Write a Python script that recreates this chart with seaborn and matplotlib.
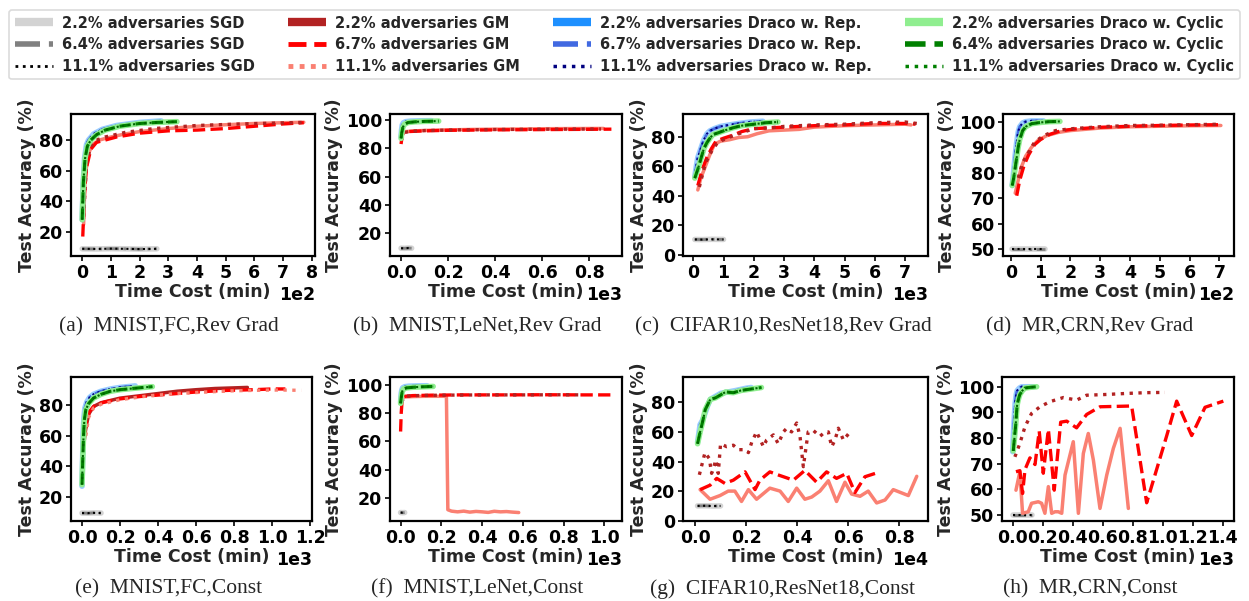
import matplotlib
matplotlib.use("Agg")
import matplotlib.pyplot as plt
from matplotlib.lines import Line2D
from matplotlib.ticker import MultipleLocator
import seaborn as sns

# ---------------------------------------------------------------- data
# time in minutes, accuracy in %

# (a) MNIST, FC, reversed gradient
A_SGD_T = [0, 50, 100, 150, 200, 260]
A_SGD_ACC = [9.0, 8.9, 9.1, 9.0, 8.8, 9.0]
A_REP_T = [0, 3, 8, 15, 22, 40, 70, 120, 200, 275]
A_REP_ACC = [28, 50, 68, 77, 80, 84, 87, 89.5, 91.5, 92.5]
A_CYC_T = [0, 4, 10, 18, 30, 50, 80, 130, 200, 260, 330]
A_CYC_ACC = [28, 52, 68, 76, 80, 83.5, 86.5, 89, 90.8, 91.5, 92]
A_GM1_T = [5, 10, 20, 35, 60, 100, 150, 200, 300, 400, 500, 600, 700, 772]
A_GM1_ACC = [25, 55, 70, 77, 80, 82, 84, 85.5, 87.5, 89, 90, 90.8, 91.3, 91.6]
A_GM2_T = [2, 8, 15, 30, 50, 80, 120, 200, 300, 400, 500, 600, 700, 772]
A_GM2_ACC = [17, 45, 62, 74, 78.5, 80, 82, 84.5, 86, 86.5, 87.5, 89, 90.5, 91.3]
A_GM3_T = [5, 15, 30, 50, 80, 150, 250, 400, 550, 700, 765]
A_GM3_ACC = [30, 65, 76, 80, 82, 85, 87.5, 89.5, 90.5, 91.2, 91.5]

# (b) MNIST, LeNet, reversed gradient
B_SGD_T = [0, 15, 30, 45]
B_SGD_ACC = [9.5, 9.4, 9.6, 9.5]
B_REP_T = [0, 2, 5, 10, 20, 40, 80, 130]
B_REP_ACC = [88, 93, 96.5, 98, 98.8, 99.2, 99.4, 99.5]
B_CYC_T = [0, 3, 8, 15, 30, 60, 100, 160]
B_CYC_ACC = [87, 91, 95, 97, 98.2, 98.7, 99, 99.2]
B_GM1_T = [5, 20, 50, 100, 200, 300, 400, 500, 600, 700, 860]
B_GM1_ACC = [91, 91.8, 92.2, 92.6, 93, 93.3, 93.5, 93.6, 93.8, 93.9, 94]
B_GM2_T = [0, 5, 10, 30, 100, 200, 400, 600, 800, 894]
B_GM2_ACC = [83, 89, 91, 91.8, 92.3, 92.7, 93, 93.2, 93.4, 93.5]
B_GM3_T = [3, 10, 40, 100, 250, 450, 650, 850]
B_GM3_ACC = [86, 91, 92, 92.5, 93, 93.3, 93.5, 93.6]

# (c) CIFAR10, ResNet18, reversed gradient
C_SGD_T = [50, 300, 600, 1000]
C_SGD_ACC = [10.5, 10.4, 10.6, 10.5]
C_REP_T = [50, 100, 150, 250, 350, 450, 550, 700, 900, 1200, 1500, 1900, 2300]
C_REP_ACC = [53, 60, 66, 72, 78, 82, 84, 85.5, 87, 88, 89, 90, 90.5]
C_CYC_T = [50, 150, 250, 350, 450, 550, 650, 800, 1000, 1300, 1600, 2000, 2400, 2800]
C_CYC_ACC = [52, 58, 65, 72, 76, 79, 81.5, 82.5, 84, 86, 87.5, 88.5, 89.5, 90]
C_GM1_T = [150, 250, 400, 550, 700, 900, 1200, 1500, 1800, 2100, 2500, 3000, 3500,
           4000, 5000, 6000, 7000, 7200]
C_GM1_ACC = [44, 52, 60, 68, 75, 77, 78, 79.5, 80, 82, 84, 84.5, 85, 86.5, 87.5, 88,
             88.5, 88]
C_GM2_T = [150, 300, 450, 600, 750, 1000, 1300, 1600, 2000, 2500, 3000, 4000, 5000,
           6000, 7000, 7350]
C_GM2_ACC = [47, 58, 66, 72, 77, 79, 81, 83.5, 85.5, 86, 86.5, 87.5, 88, 89, 89, 88.5]
C_GM3_T = [200, 400, 600, 800, 1100, 1500, 2000, 2500, 3000, 4000, 5000, 6000, 7000, 7390]
C_GM3_ACC = [46, 62, 70, 76, 79, 82, 85.5, 86, 87, 88, 88.5, 89.5, 90, 89]

# (d) MR, CRN, reversed gradient
D_SGD_T = [5, 40, 80, 115]
D_SGD_ACC = [50, 50, 50, 50]
D_REP_T = [5, 10, 15, 20, 25, 30, 40, 50, 70, 110]
D_REP_ACC = [75, 81, 87, 92, 96, 98, 99.5, 100, 100.3, 100.3]
D_CYC_T = [5, 10, 15, 20, 25, 30, 40, 50, 70, 100, 130, 165]
D_CYC_ACC = [75, 78, 82, 86, 90, 93, 96.5, 98, 99.2, 99.7, 100, 100.1]
D_GM1_T = [15, 25, 35, 50, 70, 90, 120, 160, 200, 250, 300, 400, 500, 600, 705]
D_GM1_ACC = [72, 77, 82, 86.5, 90, 92.5, 94.5, 95.8, 96.5, 97, 97.5, 98, 98.2, 98.4, 98.5]
D_GM2_T = [20, 30, 45, 60, 80, 100, 130, 170, 220, 300, 400, 500, 600, 705]
D_GM2_ACC = [71, 77, 83, 87, 91, 93, 95, 96.5, 97.2, 97.8, 98.2, 98.5, 98.7, 98.8]
D_GM3_T = [25, 40, 60, 80, 110, 150, 200, 300, 400, 500, 600, 705]
D_GM3_ACC = [78, 84, 88, 92, 94.5, 96.5, 97.2, 98, 98.5, 98.6, 98.8, 99]

# (e) MNIST, FC, constant attack
E_SGD_T = [0, 30, 60, 100]
E_SGD_ACC = [9.5, 9.4, 9.6, 9.5]
E_REP_T = [0, 3, 6, 10, 15, 25, 40, 60, 100, 150, 200, 280]
E_REP_ACC = [27, 45, 62, 72, 78, 82, 85, 87, 89, 90.5, 91.5, 92.5]
E_CYC_T = [0, 4, 8, 12, 20, 35, 60, 100, 150, 200, 280, 370]
E_CYC_ACC = [28, 45, 60, 70, 77, 81, 84.5, 87, 89, 90, 91, 92]
E_GM1_T = [10, 20, 35, 60, 100, 150, 200, 300, 400, 500, 600, 700, 800, 870]
E_GM1_ACC = [55, 65, 74, 79, 81.5, 83, 84.5, 86, 87.5, 89, 90, 90.8, 91.2, 91.5]
E_GM2_T = [15, 25, 40, 70, 120, 200, 300, 450, 600, 750, 900, 1000, 1070]
E_GM2_ACC = [62, 70, 76, 80, 82, 84, 85.5, 87, 88.5, 89.5, 90, 90.5, 90.5]
E_GM3_T = [20, 35, 60, 100, 200, 350, 500, 650, 800, 950, 1050, 1153]
E_GM3_ACC = [60, 72, 78, 80.5, 83.5, 86, 87.5, 88.5, 89.3, 89.7, 89.8, 89.6]

# (f) MNIST, LeNet, constant attack
F_SGD_T = [0, 10, 20]
F_SGD_ACC = [9.5, 9.4, 9.5]
F_REP_T = [0, 3, 6, 10, 20, 40, 80, 130]
F_REP_ACC = [88, 94, 96.5, 98, 98.8, 99.2, 99.4, 99.5]
F_CYC_T = [0, 4, 8, 15, 30, 60, 100, 160]
F_CYC_ACC = [87, 92, 95.5, 97.3, 98, 98.4, 98.7, 99]
F_GM1_T = [5, 20, 60, 120, 180, 225, 232, 250, 280, 310, 340, 370, 400, 430, 460, 490,
           520, 550, 580]
F_GM1_ACC = [91, 91.5, 91.8, 92, 92, 92, 11.5, 10.5, 10, 10.5, 9.8, 10.3, 10, 9.6, 10.4,
             10, 10.2, 9.8, 9.5]
F_GM2_T = [0, 3, 8, 20, 60, 150, 300, 500, 700, 900, 1030]
F_GM2_ACC = [67, 80, 90, 92, 92.5, 92.8, 93, 93, 93.1, 93, 93]
F_GM3_T = [5, 20, 80, 200, 400, 600, 800, 890]
F_GM3_ACC = [88, 92, 92.5, 92.8, 93, 93, 93.1, 93]

# (g) CIFAR10, ResNet18, constant attack
G_SGD_T = [100, 400, 700, 1000]
G_SGD_ACC = [10, 10.1, 9.9, 10]
G_REP_T = [100, 200, 300, 400, 500, 600, 800, 1000, 1300, 1600, 2000, 2200]
G_REP_ACC = [53, 65, 68, 73, 78, 82, 84, 86, 87, 88, 89.5, 90]
G_CYC_T = [100, 200, 300, 400, 600, 800, 1000, 1200, 1500, 1800, 2200, 2600]
G_CYC_ACC = [52, 60, 67, 75, 82, 83, 85, 87, 86.5, 88, 89, 90]
G_GM1_T = [200, 590, 980, 1300, 1560, 1820, 2090, 2410, 2930, 3330, 3650, 3980, 4300,
           4570, 4890, 5220, 5540, 5870, 6130, 6460, 6780, 7110, 7440, 7760, 8350, 8680]
G_GM1_ACC = [21, 14.5, 17, 20, 20, 13, 21, 14.5, 22, 20, 13, 22, 14.5, 16, 20, 27, 13,
             26, 18, 16.5, 20, 12, 14, 21, 17, 30]
G_GM2_T = [200, 590, 850, 1170, 1500, 1960, 2350, 2540, 2930, 3260, 3850, 4300, 4760,
           5150, 5540, 5940, 6260, 6650, 7240]
G_GM2_ACC = [21, 24, 28.6, 25.2, 27.4, 33, 21, 27.4, 33, 30.9, 27.4, 34, 26, 33, 28.6,
             32, 19, 29.7, 33]
G_GM3_T = [170, 390, 560, 650, 820, 910, 1000, 1240, 1500, 1700, 1960, 2090, 2220, 2410,
           2680, 2800, 3070, 3260, 3460, 3590, 3780, 3980, 4110, 4240, 4430, 4630, 4890,
           5090, 5220, 5350, 5480, 5610, 5810, 6070]
G_GM3_ACC = [31, 46, 42, 32, 41, 32, 52, 50, 51, 48, 48, 46, 53, 60, 50, 54.5, 58, 52,
             60, 62.5, 60, 66, 57, 36.5, 60, 61, 57, 60, 60, 50, 54.5, 62.5, 54.5, 60]

# (h) MR, CRN, constant attack
H_SGD_T = [0, 40, 80, 127]
H_SGD_ACC = [50, 50, 50, 50]
H_REP_T = [0, 8, 16, 24, 30, 45, 60, 100, 140]
H_REP_ACC = [74.7, 85, 93.3, 97, 98.5, 99.5, 100, 100, 100]
H_CYC_T = [4, 12, 20, 25, 30, 40, 48, 65, 82, 120, 160]
H_CYC_ACC = [75, 80, 85, 89, 93, 95.5, 97, 98.5, 99.5, 99.8, 100]
H_GM1_T = [22, 48, 66, 104, 126, 171, 193, 215, 238, 260, 282, 304, 327, 349, 404, 438,
           471, 504, 538, 582, 627, 671, 716, 771]
H_GM1_ACC = [59.7, 66.9, 50.7, 51.3, 54.6, 55.2, 54.6, 50.7, 61.1, 50.7, 51.3, 51.3,
             50.7, 65.6, 78.6, 50.7, 74, 81.8, 71.4, 52.6, 65.6, 76, 83.8, 52.6]
H_GM2_T = [22, 48, 66, 82, 115, 149, 177, 204, 238, 277, 320, 360, 426, 493, 582, 793,
           893, 1026, 1093, 1193, 1282, 1404]
H_GM2_ACC = [66.9, 67.3, 58.4, 67.7, 72.3, 69.7, 82.7, 66.3, 83.4, 59.7, 86.2, 86.6, 84,
             89.2, 92.2, 92.5, 54.8, 80.8, 94.4, 81, 92, 94.4]
H_GM3_T = [15, 48, 82, 126, 182, 249, 338, 426, 493, 627, 760, 893, 1015]
H_GM3_ACC = [72.7, 77.9, 84.4, 89.6, 92.2, 94.2, 95.8, 94.8, 96.7, 97, 97.4, 97.7, 97.8]

CAPTIONS = ["(a)  MNIST,FC,Rev Grad", "(b)  MNIST,LeNet,Rev Grad",
            "(c)  CIFAR10,ResNet18,Rev Grad", "(d)  MR,CRN,Rev Grad",
            "(e)  MNIST,FC,Const", "(f)  MNIST,LeNet,Const",
            "(g)  CIFAR10,ResNet18,Const", "(h)  MR,CRN,Const"]

LEGEND_LABELS = ["2.2% adversaries SGD", "6.4% adversaries SGD", "11.1% adversaries SGD",
                 "2.2% adversaries GM", "6.7% adversaries GM", "11.1% adversaries GM",
                 "2.2% adversaries Draco w. Rep.", "6.7% adversaries Draco w. Rep.",
                 "11.1% adversaries Draco w. Rep.",
                 "2.2% adversaries Draco w. Cyclic", "6.4% adversaries Draco w. Cyclic",
                 "11.1% adversaries Draco w. Cyclic"]

# ---------------------------------------------------------------- styles
sns.set_style("ticks")
plt.rcParams.update({
    "font.family": ["DejaVu Sans"],
    "font.weight": "bold",
    "axes.labelweight": "bold",
    "font.size": 12,
    "axes.edgecolor": "black",
    "axes.linewidth": 1.6,
    "xtick.color": "black",
    "ytick.color": "black",
    "xtick.major.width": 1.2,
    "ytick.major.width": 1.2,
    "xtick.major.size": 3.5,
    "ytick.major.size": 3.5,
})

DASHDOT = (0, (4.5, 1.6, 1, 1.6))
SGD_STY = [dict(color="lightgray", ls="-", lw=4),
           dict(color="gray", ls=DASHDOT, lw=2),
           dict(color="black", ls=":", lw=1.5)]
REP_STY = [dict(color="dodgerblue", ls="-", lw=4, alpha=0.45),
           dict(color="royalblue", ls=DASHDOT, lw=2),
           dict(color="navy", ls=":", lw=1.5)]
CYC_STY = [dict(color="lightgreen", ls="-", lw=4),
           dict(color="green", ls="--", lw=2.2),
           dict(color="darkgreen", ls=":", lw=1.5)]
GM_STY = [dict(color="salmon", ls="-", lw=2.5),
          dict(color="red", ls="--", lw=2.4),
          dict(color="firebrick", ls=":", lw=2.4)]
GM_STY_E = [dict(color="firebrick", ls="-", lw=2.5),
            dict(color="red", ls="--", lw=2.4),
            dict(color="salmon", ls=":", lw=2.4)]

panels = [
    dict(sgd=(A_SGD_T, A_SGD_ACC), rep=(A_REP_T, A_REP_ACC), cyc=(A_CYC_T, A_CYC_ACC),
         gm=[(A_GM1_T, A_GM1_ACC), (A_GM2_T, A_GM2_ACC), (A_GM3_T, A_GM3_ACC)],
         gmsty=GM_STY, power=2, xstep=100, ystep=20, xlim=(-39, 811), ylim=(4.3, 97)),
    dict(sgd=(B_SGD_T, B_SGD_ACC), rep=(B_REP_T, B_REP_ACC), cyc=(B_CYC_T, B_CYC_ACC),
         gm=[(B_GM1_T, B_GM1_ACC), (B_GM2_T, B_GM2_ACC), (B_GM3_T, B_GM3_ACC)],
         gmsty=GM_STY, power=3, xstep=200, ystep=20, xlim=(-47, 939), ylim=(4, 104.2)),
    dict(sgd=(C_SGD_T, C_SGD_ACC), rep=(C_REP_T, C_REP_ACC), cyc=(C_CYC_T, C_CYC_ACC),
         gm=[(C_GM1_T, C_GM1_ACC), (C_GM2_T, C_GM2_ACC), (C_GM3_T, C_GM3_ACC)],
         gmsty=GM_STY, power=3, xstep=1000, ystep=20, xlim=(-340, 7760), ylim=(-0.7, 95.4)),
    dict(sgd=(D_SGD_T, D_SGD_ACC), rep=(D_REP_T, D_REP_ACC), cyc=(D_CYC_T, D_CYC_ACC),
         gm=[(D_GM1_T, D_GM1_ACC), (D_GM2_T, D_GM2_ACC), (D_GM3_T, D_GM3_ACC)],
         gmsty=GM_STY, power=2, xstep=100, ystep=10, xlim=(-26, 749), ylim=(47.4, 103)),
    dict(sgd=(E_SGD_T, E_SGD_ACC), rep=(E_REP_T, E_REP_ACC), cyc=(E_CYC_T, E_CYC_ACC),
         gm=[(E_GM1_T, E_GM1_ACC), (E_GM2_T, E_GM2_ACC), (E_GM3_T, E_GM3_ACC)],
         gmsty=GM_STY_E, power=3, xstep=200, ystep=20, xlim=(-58, 1210), ylim=(4.3, 98.3)),
    dict(sgd=(F_SGD_T, F_SGD_ACC), rep=(F_REP_T, F_REP_ACC), cyc=(F_CYC_T, F_CYC_ACC),
         gm=[(F_GM1_T, F_GM1_ACC), (F_GM2_T, F_GM2_ACC), (F_GM3_T, F_GM3_ACC)],
         gmsty=GM_STY, power=3, xstep=200, ystep=20, xlim=(-52, 1087), ylim=(3.5, 105.7)),
    dict(sgd=(G_SGD_T, G_SGD_ACC), rep=(G_REP_T, G_REP_ACC), cyc=(G_CYC_T, G_CYC_ACC),
         gm=[(G_GM1_T, G_GM1_ACC), (G_GM2_T, G_GM2_ACC), (G_GM3_T, G_GM3_ACC)],
         gmsty=GM_STY, power=4, xstep=2000, ystep=20, xlim=(-470, 9120), ylim=(-0.2, 97.1)),
    dict(sgd=(H_SGD_T, H_SGD_ACC), rep=(H_REP_T, H_REP_ACC), cyc=(H_CYC_T, H_CYC_ACC),
         gm=[(H_GM1_T, H_GM1_ACC), (H_GM2_T, H_GM2_ACC), (H_GM3_T, H_GM3_ACC)],
         gmsty=GM_STY, power=3, xstep=200, ystep=10, xlim=(-71, 1475), ylim=(47.7, 103.8)),
]

# axes rectangles in figure pixels: left, right, top, bottom
W, H = 1249, 601
BOXES = [(71, 315, 114, 256), (390, 622, 114, 256), (683, 928, 114, 256),
         (1003, 1234, 114, 256),
         (71, 312, 377, 521), (390, 622, 377, 521), (683, 928, 377, 521),
         (1002, 1234, 377, 521)]
CAP_X = [169, 477, 783, 1090, 169, 477, 783, 1090]
CAP_Y = [327, 327, 327, 327, 589, 589, 589, 589]

fig = plt.figure(figsize=(W / 100, H / 100), dpi=100)


def draw(ax, t, acc, sty):
    sns.lineplot(x=t, y=acc, ax=ax, sort=False, estimator=None, legend=False,
                 color=sty["color"], linestyle=sty["ls"], linewidth=sty["lw"],
                 alpha=sty.get("alpha", 1.0))


for i, p in enumerate(panels):
    l, r, t, b = BOXES[i]
    ax = fig.add_axes([l / W, 1 - b / H, (r - l) / W, (b - t) / H])
    for sty in SGD_STY:
        draw(ax, *p["sgd"], sty)
    for data, sty in zip(p["gm"], p["gmsty"]):
        draw(ax, *data, sty)
    for sty in REP_STY:
        draw(ax, *p["rep"], sty)
    for sty in CYC_STY:
        draw(ax, *p["cyc"], sty)
    ax.set_xlim(*p["xlim"])
    ax.set_ylim(*p["ylim"])
    ax.xaxis.set_major_locator(MultipleLocator(p["xstep"]))
    ax.yaxis.set_major_locator(MultipleLocator(p["ystep"]))
    ax.ticklabel_format(axis="x", style="sci", scilimits=(p["power"], p["power"]))
    off = ax.xaxis.get_offset_text()
    off.set_fontsize(12.5)
    off.set_fontweight("bold")
    ax.set_xlabel("Time Cost (min)", fontsize=12.5, fontweight="bold", labelpad=1)
    ax.set_ylabel("Test Accuracy (%)", fontsize=12.5, fontweight="bold", labelpad=2)
    ax.tick_params(labelsize=12.5, pad=2)
    for s in ax.spines.values():
        s.set_visible(True)
    fig.text(CAP_X[i] / W, 1 - CAP_Y[i] / H, CAPTIONS[i], ha="center", va="center",
             fontsize=15.5, fontweight="normal", family=["Liberation Serif"])

# legend proxies
LEG_STY = [dict(color="lightgray", ls="-", lw=6), dict(color="gray", ls=DASHDOT, lw=4),
           dict(color="black", ls=":", lw=2),
           dict(color="firebrick", ls="-", lw=6), dict(color="red", ls="--", lw=3.5),
           dict(color="salmon", ls=(0, (1, 1.3)), lw=3.5),
           dict(color="dodgerblue", ls="-", lw=6), dict(color="royalblue", ls=DASHDOT, lw=4),
           dict(color="navy", ls=":", lw=2.5),
           dict(color="lightgreen", ls="-", lw=6), dict(color="green", ls="--", lw=4),
           dict(color="green", ls=":", lw=2.5)]
handles = [Line2D([], [], color=s["color"], linestyle=s["ls"], linewidth=s["lw"],
                  solid_capstyle="butt", dash_capstyle="butt")
           for s in LEG_STY]
leg = fig.legend(handles, LEGEND_LABELS, ncol=4, loc="upper center",
                 bbox_to_anchor=(0.5, 0.996), fontsize=10.5, frameon=True,
                 handlelength=2.6, handletextpad=0.6, columnspacing=2.3,
                 labelspacing=0.45, borderpad=0.4, fancybox=True)
leg.get_frame().set_edgecolor("lightgray")
leg.get_frame().set_linewidth(1.2)
for txt in leg.get_texts():
    txt.set_fontweight("bold")

fig.savefig("out.png", dpi=100)
